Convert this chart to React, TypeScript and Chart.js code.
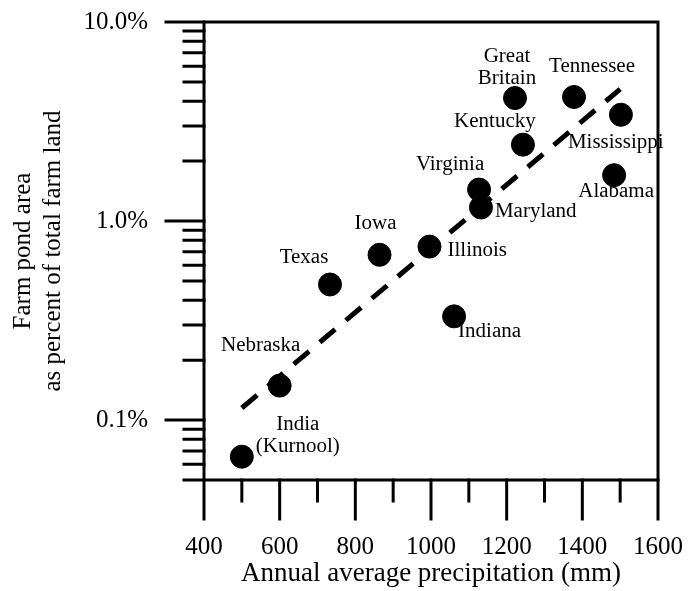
import React, { useEffect, useRef } from "react";
import { Chart, registerables } from "chart.js";

Chart.register(...registerables);

// ---- data ----
const PLACES: string[][] = [
  ["India", "(Kurnool)"],
  ["Nebraska"],
  ["Texas"],
  ["Iowa"],
  ["Illinois"],
  ["Indiana"],
  ["Virginia"],
  ["Maryland"],
  ["Kentucky"],
  ["Great", "Britain"],
  ["Tennessee"],
  ["Mississippi"],
  ["Alabama"],
];
const PRECIP_MM = [500, 600, 733, 864, 996, 1061, 1127, 1132, 1243, 1222, 1378, 1502, 1484];
const POND_PCT = [0.0655, 0.149, 0.48, 0.677, 0.744, 0.332, 1.44, 1.17, 2.42, 4.15, 4.2, 3.42, 1.7];
const TREND_MM = [500, 1500];
const TREND_PCT = [0.115, 4.6];
const X_TICKS = [400, 600, 800, 1000, 1200, 1400, 1600];
const Y_TICKS = [0.1, 1, 10];
const X_TITLE = "Annual average precipitation (mm)";
const Y_TITLE = ["Farm pond area", "as percent of total farm land"];

const FONT = "'Liberation Serif', 'Times New Roman', serif";

// label placement relative to each dot (pixels)
const LABEL_POS: { dx: number; dy: number; align: CanvasTextAlign }[] = [
  { dx: 56, dy: -32, align: "center" },
  { dx: -19, dy: -40, align: "center" },
  { dx: -26, dy: -27, align: "center" },
  { dx: -4, dy: -31, align: "center" },
  { dx: 18, dy: 4, align: "left" },
  { dx: 4, dy: 15, align: "left" },
  { dx: -29, dy: -25, align: "center" },
  { dx: 14, dy: 4, align: "left" },
  { dx: -28, dy: -23, align: "center" },
  { dx: -8, dy: -41, align: "center" },
  { dx: 18, dy: -30, align: "center" },
  { dx: -53, dy: 28, align: "left" },
  { dx: 2, dy: 17, align: "center" },
];

const framePlugin = {
  id: "frameTicks",
  beforeDatasetsDraw(chart: any) {
    const { ctx, chartArea: a, scales } = chart;
    const x = scales.x;
    const y = scales.y;
    ctx.save();
    ctx.strokeStyle = "#000";
    ctx.lineWidth = 3;
    ctx.lineCap = "square";
    ctx.strokeRect(a.left, a.top, a.right - a.left, a.bottom - a.top);
    ctx.beginPath();
    for (let v = x.min; v <= x.max + 1e-6; v += 100) {
      const px = x.getPixelForValue(v);
      const major = Math.round(v) % 200 === 0;
      ctx.moveTo(px, a.bottom);
      ctx.lineTo(px, a.bottom + (major ? 39 : 21));
    }
    for (const d of [0.01, 0.1, 1, 10]) {
      for (let m = 1; m <= 9; m++) {
        const v = m * d;
        if (v < y.min * 0.999 || v > y.max * 1.001) continue;
        const py = y.getPixelForValue(v);
        ctx.moveTo(a.left, py);
        ctx.lineTo(a.left - (m === 1 ? 38 : 20), py);
      }
    }
    ctx.stroke();
    ctx.restore();
  },
  afterDatasetsDraw(chart: any) {
    const { ctx } = chart;
    const meta = chart.getDatasetMeta(1);
    ctx.save();
    ctx.fillStyle = "#000";
    ctx.font = `20px ${FONT}`;
    ctx.textBaseline = "middle";
    meta.data.forEach((pt: any, i: number) => {
      const lp = LABEL_POS[i];
      const lines = PLACES[i];
      lines.forEach((line, j) => {
        ctx.save();
        ctx.translate(pt.x + lp.dx, pt.y + lp.dy + j * 22);
        ctx.scale(1.05, 1);
        ctx.textAlign = lp.align;
        ctx.fillText(line, 0, 0);
        ctx.restore();
      });
    });
    ctx.restore();
  },
};

export default function App() {
  const ref = useRef<HTMLCanvasElement>(null);
  useEffect(() => {
    document.body.style.margin = "0";
    if (!ref.current) return;
    const chart = new Chart(ref.current, {
      type: "scatter",
      data: {
        datasets: [
          {
            type: "line",
            data: TREND_MM.map((v, i) => ({ x: v, y: TREND_PCT[i] })),
            borderColor: "#000",
            borderWidth: 5,
            borderDash: [20, 14],
            pointRadius: 0,
            fill: false,
            order: 2,
          } as any,
          {
            data: PRECIP_MM.map((v, i) => ({ x: v, y: POND_PCT[i] })),
            backgroundColor: "#000",
            borderColor: "#000",
            pointRadius: 11.5,
            pointHoverRadius: 11.5,
            order: 1,
          },
        ],
      },
      options: {
        animation: false,
        responsive: false,
        events: [],
        layout: { padding: { top: 22, right: 30, left: 0, bottom: 0 } },
        plugins: { legend: { display: false }, tooltip: { enabled: false } },
        scales: {
          x: {
            type: "linear",
            min: 400,
            max: 1600,
            afterBuildTicks: (s: any) => {
              s.ticks = X_TICKS.map((v) => ({ value: v }));
            },
            afterFit: (s: any) => {
              s.height = 111;
              s.paddingLeft = 0;
              s.paddingRight = 0;
            },
            grid: { display: false, drawTicks: false },
            border: { display: false },
            ticks: {
              padding: 52,
              color: "#000",
              maxRotation: 0,
              autoSkip: false,
              font: { family: FONT, size: 25 },
              callback: (v: any) => String(v),
            },
            title: {
              display: true,
              text: X_TITLE,
              color: "#000",
              padding: { top: 0, bottom: 3.5 },
              font: { family: FONT, size: 27, lineHeight: 1 },
            },
          },
          y: {
            type: "logarithmic",
            min: 0.05,
            max: 10,
            afterBuildTicks: (s: any) => {
              s.ticks = Y_TICKS.map((v) => ({ value: v }));
            },
            afterFit: (s: any) => {
              s.width = 204;
              s.paddingTop = 0;
              s.paddingBottom = 0;
            },
            grid: { display: false, drawTicks: false },
            border: { display: false },
            ticks: {
              padding: 56,
              color: "#000",
              autoSkip: false,
              font: { family: FONT, size: 25 },
              callback: (v: any) => Number(v).toFixed(1) + "%",
            },
            title: {
              display: true,
              text: Y_TITLE,
              color: "#000",
              padding: { top: 8, bottom: 0 },
              font: { family: FONT, size: 25, lineHeight: 1.2 },
            },
          },
        },
      },
      plugins: [framePlugin],
    });
    return () => chart.destroy();
  }, []);
  return (
    <div style={{ width: 688, height: 591 }}>
      <canvas ref={ref} width={688} height={591} style={{ display: "block" }} />
    </div>
  );
}
